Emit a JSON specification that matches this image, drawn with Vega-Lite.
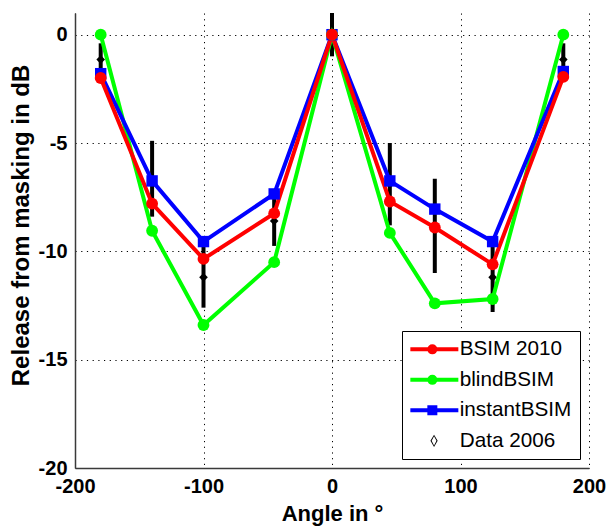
{
  "$schema": "https://vega.github.io/schema/vega-lite/v6.json",
  "width": 514,
  "height": 455,
  "autosize": {"type": "none"},
  "padding": {"left": 75, "top": 13, "right": 18, "bottom": 58},
  "background": "white",
  "datasets": {
    "models": [
      {"series": "blindBSIM", "angle": -180, "value": 0},
      {"series": "blindBSIM", "angle": -140, "value": -9.05},
      {"series": "blindBSIM", "angle": -100, "value": -13.4},
      {"series": "blindBSIM", "angle": -45, "value": -10.5},
      {"series": "blindBSIM", "angle": 0, "value": 0},
      {"series": "blindBSIM", "angle": 45, "value": -9.15},
      {"series": "blindBSIM", "angle": 80, "value": -12.4},
      {"series": "blindBSIM", "angle": 125, "value": -12.2},
      {"series": "blindBSIM", "angle": 180, "value": 0},
      {"series": "instantBSIM", "angle": -180, "value": -1.8},
      {"series": "instantBSIM", "angle": -140, "value": -6.75},
      {"series": "instantBSIM", "angle": -100, "value": -9.55},
      {"series": "instantBSIM", "angle": -45, "value": -7.35},
      {"series": "instantBSIM", "angle": 0, "value": 0},
      {"series": "instantBSIM", "angle": 45, "value": -6.75},
      {"series": "instantBSIM", "angle": 80, "value": -8.05},
      {"series": "instantBSIM", "angle": 125, "value": -9.55},
      {"series": "instantBSIM", "angle": 180, "value": -1.7},
      {"series": "BSIM 2010", "angle": -180, "value": -2.0},
      {"series": "BSIM 2010", "angle": -140, "value": -7.8},
      {"series": "BSIM 2010", "angle": -100, "value": -10.35},
      {"series": "BSIM 2010", "angle": -45, "value": -8.25},
      {"series": "BSIM 2010", "angle": 0, "value": 0},
      {"series": "BSIM 2010", "angle": 45, "value": -7.7},
      {"series": "BSIM 2010", "angle": 80, "value": -8.9},
      {"series": "BSIM 2010", "angle": 125, "value": -10.6},
      {"series": "BSIM 2010", "angle": 180, "value": -1.95}
    ],
    "exp": [
      {"series": "Data 2006", "angle": -180, "value": -1.15, "lo": -1.9, "hi": -0.4},
      {"series": "Data 2006", "angle": -140, "value": -6.65, "lo": -8.4, "hi": -4.9},
      {"series": "Data 2006", "angle": -100, "value": -11.2, "lo": -12.6, "hi": -9.8},
      {"series": "Data 2006", "angle": -45, "value": -8.6, "lo": -9.75, "hi": -7.45},
      {"series": "Data 2006", "angle": 0, "value": 0, "lo": -1.0, "hi": 1.0},
      {"series": "Data 2006", "angle": 45, "value": -6.9, "lo": -8.8, "hi": -5.0},
      {"series": "Data 2006", "angle": 80, "value": -8.8, "lo": -11.0, "hi": -6.65},
      {"series": "Data 2006", "angle": 125, "value": -11.2, "lo": -12.8, "hi": -9.6},
      {"series": "Data 2006", "angle": 180, "value": -1.15, "lo": -1.9, "hi": -0.4}
    ]
  },
  "encoding": {
    "x": {
      "field": "angle", "type": "quantitative",
      "scale": {"domain": [-200, 200], "nice": false, "zero": false},
      "axis": {"values": [-200, -100, 0, 100, 200], "title": "Angle in °", "labelPadding": 8, "titlePadding": 7}
    },
    "color": {"field": "series", "type": "nominal",
      "scale": {"domain": ["BSIM 2010", "blindBSIM", "instantBSIM", "Data 2006"], "range": ["#ff0000", "#00ff00", "#0000ff", "#000000"]},
      "legend": {
        "title": null, "orient": "bottom-right", "offset": 9, "padding": 8,
        "strokeColor": "black", "fillColor": "white",
        "symbolSize": 400, "symbolStrokeWidth": 4,
        "labelFont": "Liberation Sans", "labelFontSize": 20.7, "labelColor": "black", "labelOffset": 29,
        "rowPadding": 7.5,
        "labelExpr": "datum.label == 'Data 2006' ? '\u00a0Data 2006' : datum.label",
        "encode": {
          "symbols": {
            "update": {
              "shape": {"signal": "datum.value === 'instantBSIM' ? 'M-1,0L3.8,0M0.9,-0.3L1.5,-0.3L1.5,0.3L0.9,0.3Z' : datum.value === 'Data 2006' ? 'M1.37,-0.62L1.73,0L1.37,0.62L1.01,0ZM1.37,-0.46L1.13,0L1.37,0.46L1.61,0Z' : 'M-1,0L3.8,0M1.5,0A0.3,0.3,0,1,1,0.9,0A0.3,0.3,0,1,1,1.5,0Z'"},
              "fill": {"signal": "scale('color', datum.value)"},
              "stroke": {"signal": "datum.value === 'Data 2006' ? 'transparent' : scale('color', datum.value)"},
              "strokeWidth": {"signal": "datum.value === 'Data 2006' ? 0 : 4"},
              "opacity": {"value": 1}
            }
          }
        }
      }
    }
  },
  "layer": [
    {
      "data": {"name": "exp"},
      "mark": {"type": "rule", "color": "black", "strokeWidth": 4},
      "encoding": {
        "color": {"value": "black"},
        "y": {"field": "lo", "type": "quantitative", "scale": {"domain": [-20, 1], "nice": false, "zero": false},
          "axis": {"values": [-20, -15, -10, -5, 0], "title": "Release from masking in dB", "labelPadding": 8, "titlePadding": 5, "titleFontSize": 24, "titleY": 212}},
        "y2": {"field": "hi"}
      }
    },
    {
      "data": {"name": "exp"},
      "mark": {"type": "point", "filled": true, "opacity": 1, "size": 75, "shape": "diamond"},
      "encoding": {
        "y": {"field": "value", "type": "quantitative"}
      }
    },
    {
      "data": {"name": "models"},
      "mark": {"type": "line", "strokeWidth": 4},
      "encoding": {
        "y": {"field": "value", "type": "quantitative"}
      }
    },
    {
      "data": {"name": "models"},
      "transform": [{"filter": "datum.series === 'instantBSIM'"}],
      "mark": {"type": "point", "filled": true, "opacity": 1, "size": 130, "shape": "square"},
      "encoding": {
        "y": {"field": "value", "type": "quantitative"}
      }
    },
    {
      "data": {"name": "models"},
      "transform": [{"filter": "datum.series !== 'instantBSIM'"}],
      "mark": {"type": "point", "filled": true, "opacity": 1, "size": 140, "shape": "circle"},
      "encoding": {
        "y": {"field": "value", "type": "quantitative"}
      }
    }
  ],
  "config": {
    "view": {"stroke": null},
    "axis": {
      "labelFont": "Liberation Sans", "labelFontSize": 20, "labelFontWeight": "bold", "labelColor": "black",
      "labelExpr": "replace(datum.label, '\u2212', '-')",
      "titleFont": "Liberation Sans", "titleFontSize": 22, "titleFontWeight": "bold", "titleColor": "black",
      "domainColor": "#3a3a3a", "domainWidth": 1.5, "ticks": false,
      "grid": true, "gridColor": "black", "gridDash": [1.2, 4.5], "gridWidth": 1, "gridOpacity": 1,
      "labelFlush": false, "labelOverlap": false, "labelBound": false
    }
  }
}
